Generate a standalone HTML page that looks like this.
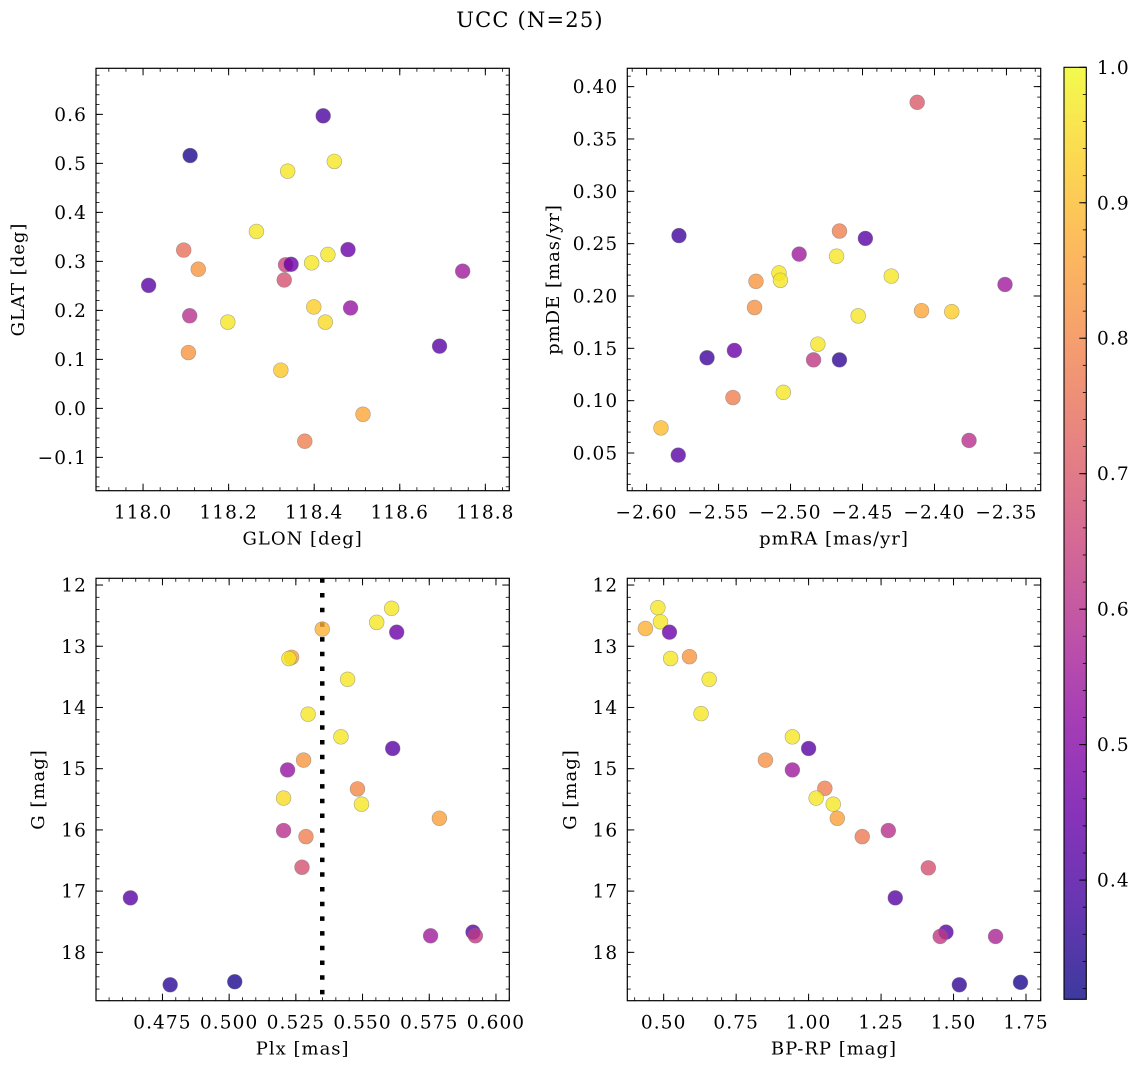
<!DOCTYPE html>
<html><head><meta charset="utf-8"><title>UCC (N=25)</title>
<style>
html,body{margin:0;padding:0;background:#fff;}
svg{display:block;font-family:"DejaVu Serif","Liberation Serif",serif;}
.tk{font-size:18.5px;letter-spacing:1.1px;}
.lb{font-size:18px;letter-spacing:1px;}
</style></head>
<body>
<svg id="fig" width="1136" height="1067" viewBox="0 0 1136 1067" xmlns="http://www.w3.org/2000/svg">
<defs>
<linearGradient id="cbgrad" x1="0" y1="1" x2="0" y2="0">
<stop offset="0" stop-color="#0d0887"/><stop offset="0.1" stop-color="#41049d"/><stop offset="0.2" stop-color="#6a00a8"/><stop offset="0.3" stop-color="#8f0da4"/><stop offset="0.4" stop-color="#b12a90"/><stop offset="0.5" stop-color="#cc4778"/><stop offset="0.6" stop-color="#e16462"/><stop offset="0.7" stop-color="#f2844b"/><stop offset="0.8" stop-color="#fca636"/><stop offset="0.9" stop-color="#fcce25"/><stop offset="1" stop-color="#f0f921"/>
</linearGradient>
</defs>
<text x="530" y="27" text-anchor="middle" font-size="21" letter-spacing="1.2">UCC (N=25)</text>
</svg>
<script>
// ---- data ----
const glon = [118.013,118.11,118.095,118.129,118.109,118.106,118.198,118.265,118.333,118.346,118.33,118.322,118.338,118.378,118.394,118.399,118.432,118.426,118.447,118.421,118.479,118.485,118.514,118.693,118.747];
const glat = [0.251,0.516,0.323,0.284,0.189,0.114,0.176,0.361,0.293,0.294,0.262,0.078,0.484,-0.067,0.297,0.207,0.314,0.176,0.504,0.597,0.324,0.205,-0.012,0.127,0.28];
const probTL = [0.42,0.33,0.75,0.83,0.6,0.83,0.97,0.97,0.65,0.45,0.68,0.92,0.97,0.78,0.97,0.93,0.97,0.95,0.97,0.4,0.45,0.53,0.86,0.42,0.55];

const pmra = [-2.5775,-2.578,-2.590,-2.558,-2.539,-2.540,-2.524,-2.525,-2.508,-2.507,-2.505,-2.494,-2.484,-2.481,-2.466,-2.468,-2.466,-2.453,-2.448,-2.430,-2.412,-2.409,-2.388,-2.376,-2.351];
const pmde = [0.2577,0.048,0.074,0.141,0.148,0.103,0.214,0.189,0.222,0.215,0.108,0.240,0.139,0.154,0.262,0.238,0.139,0.181,0.255,0.219,0.385,0.186,0.185,0.062,0.211];
const probTR = [0.38,0.42,0.9,0.38,0.45,0.78,0.83,0.82,0.97,0.97,0.97,0.55,0.62,0.97,0.78,0.97,0.36,0.97,0.42,0.97,0.7,0.86,0.93,0.6,0.55];

const plx = [0.463,0.4779,0.5021,0.5219,0.5204,0.5204,0.5234,0.5224,0.5273,0.5279,0.5288,0.5296,0.5349,0.5419,0.5444,0.5481,0.5496,0.5553,0.5609,0.5613,0.5628,0.5755,0.5788,0.5914,0.5923];
const gmagBL = [17.11,18.53,18.48,15.02,16.01,15.48,13.18,13.2,16.61,14.86,16.11,14.11,12.72,14.48,13.54,15.33,15.58,12.61,12.38,14.67,12.77,17.73,15.81,17.67,17.73];
const probBL = [0.42,0.35,0.33,0.53,0.6,0.95,0.85,0.97,0.68,0.83,0.78,0.97,0.88,0.97,0.97,0.8,0.97,0.97,0.97,0.42,0.45,0.55,0.85,0.42,0.62];
const plxMedian = [0.5349];

const bprp = [0.480,0.489,0.437,0.520,0.524,0.589,0.657,0.629,0.944,1.0,0.851,0.944,1.056,1.026,1.085,1.099,1.185,1.275,1.413,1.299,1.474,1.454,1.645,1.520,1.731];
const gmagBR = [12.37,12.60,12.71,12.77,13.20,13.17,13.54,14.10,14.48,14.67,14.86,15.02,15.32,15.48,15.58,15.81,16.11,16.01,16.62,17.11,17.67,17.74,17.74,18.53,18.49];
const probBR = [0.97,0.97,0.88,0.45,0.97,0.83,0.97,0.97,0.97,0.42,0.82,0.55,0.78,0.97,0.97,0.85,0.77,0.6,0.68,0.42,0.42,0.62,0.57,0.36,0.33];

const cbTicks = [0.4,0.5,0.6,0.7,0.8,0.9,1.0];
const cRange = [0.312,1.0];

// ---- helpers ----
const NS="http://www.w3.org/2000/svg";
const fig=document.getElementById('fig');
function el(tag,attrs,parent){const e=document.createElementNS(NS,tag);for(const k in attrs)e.setAttribute(k,attrs[k]);(parent||fig).appendChild(e);return e;}
const stops=[[13,8,135],[65,4,157],[106,0,168],[143,13,164],[177,42,144],[204,71,120],[225,100,98],[242,132,75],[252,166,54],[252,206,37],[240,249,33]];
function plasma(v){let t=(v-cRange[0])/(cRange[1]-cRange[0]);t=Math.max(0,Math.min(1,t))*10;const i=Math.min(9,Math.floor(t)),f=t-i;const a=stops[i],b=stops[i+1];return 'rgb('+a.map((x,k)=>Math.round(x+(b[k]-x)*f)).join(',')+')';}
function fmt(v,d){const s=Math.abs(v).toFixed(d);return (v< -1e-9?'\u2212':'')+s;}

function panel(cfg){
  const g=el('g',{});
  
  
  const [x0,x1]=cfg.px,[y0,y1]=cfg.py;
  const sx=v=>x0+(v-cfg.xr[0])/(cfg.xr[1]-cfg.xr[0])*(x1-x0);
  const sy=cfg.invert? v=>y0+(v-cfg.yr[0])/(cfg.yr[1]-cfg.yr[0])*(y1-y0)
                     : v=>y1-(v-cfg.yr[0])/(cfg.yr[1]-cfg.yr[0])*(y1-y0);
  if(cfg.vline){const vx=sx(cfg.vline[0]);const l=el('line',{x1:vx,x2:vx,y1:y0,y2:y1,stroke:'#000','stroke-width':4.5,'stroke-dasharray':'4.5 10.2'},g);
    
    }
  for(let i=0;i<cfg.xs.length;i++){
    const c=el('circle',{cx:sx(cfg.xs[i]),cy:sy(cfg.ys[i]),r:7.4,fill:plasma(cfg.cs[i]),'fill-opacity':0.8,stroke:'#777','stroke-opacity':0.6,'stroke-width':0.6},g);
    
    
  }
  const fr=el('rect',{x:x0,y:y0,width:x1-x0,height:y1-y0,fill:'none',stroke:'#000','stroke-width':1.2},g);
  
  
  const tk=(a,b,c,d,w)=>el('line',{x1:a,y1:b,x2:c,y2:d,stroke:'#000','stroke-width':w||1},g);
  const eps=1e-9;
  const xmin=Math.min(...cfg.xr),xmax=Math.max(...cfg.xr),ymin=Math.min(...cfg.yr),ymax=Math.max(...cfg.yr);
  for(let v=Math.ceil(xmin/cfg.xmin-eps)*cfg.xmin;v<=xmax+eps;v+=cfg.xmin){const X=sx(v);tk(X,y1,X,y1-3.5,0.8);tk(X,y0,X,y0+3.5,0.8);}
  for(let v=Math.ceil(ymin/cfg.ymin-eps)*cfg.ymin;v<=ymax+eps;v+=cfg.ymin){const Y=sy(v);tk(x0,Y,x0+3.5,Y,0.8);tk(x1,Y,x1-3.5,Y,0.8);}
  cfg.xt.forEach(v=>{const X=sx(v);tk(X,y1,X,y1-7);tk(X,y0,X,y0+7);
    const t=el('text',{x:X,y:y1+28,'text-anchor':'middle','class':'tk'},g);t.textContent=fmt(v,cfg.xd);
    
    });
  cfg.yt.forEach(v=>{const Y=sy(v);tk(x0,Y,x0+7,Y);tk(x1,Y,x1-7,Y);
    const t=el('text',{x:x0-9,y:Y+6.5,'text-anchor':'end','class':'tk'},g);t.textContent=fmt(v,cfg.yd);
    
    });
  const xl=el('text',{x:(x0+x1)/2,y:y1+54,'text-anchor':'middle','class':'lb'},g);xl.textContent=cfg.xlabel;
  
  
  const yl=el('text',{x:0,y:0,'text-anchor':'middle','class':'lb',transform:'translate('+cfg.ylx+','+((y0+y1)/2)+') rotate(-90)'},g);yl.textContent=cfg.ylabel;
  
  
}
function range(a,b,s){const r=[];for(let v=a;v<=b+s*1e-6;v+=s)r.push(Math.round(v/s)*s);return r;}

panel({name:'glon-glat-panel',px:[96,509.3],py:[68.3,490.7],xr:[117.89,118.856],yr:[-0.168,0.694],
  xs:glon,ys:glat,cs:probTL,xt:range(118.0,118.8,0.2),xd:1,xmin:0.04,yt:range(-0.1,0.6,0.1),yd:1,ymin:0.02,
  xlabel:'GLON [deg]',ylabel:'GLAT [deg]',ylx:24});
panel({name:'pmra-pmde-panel',px:[627.3,1040.7],py:[68.3,490.7],xr:[-2.6134,-2.3262],yr:[0.014,0.4175],
  xs:pmra,ys:pmde,cs:probTR,xt:range(-2.60,-2.35,0.05),xd:2,xmin:0.01,yt:range(0.05,0.40,0.05),yd:2,ymin:0.01,
  xlabel:'pmRA [mas/yr]',ylabel:'pmDE [mas/yr]',ylx:559});
panel({name:'plx-g-panel',px:[96,509.3],py:[578.3,1000.7],xr:[0.4501,0.605],yr:[11.89,18.79],invert:true,vline:plxMedian,
  xs:plx,ys:gmagBL,cs:probBL,xt:range(0.475,0.600,0.025),xd:3,xmin:0.005,yt:range(12,18,1),yd:0,ymin:0.2,
  xlabel:'Plx [mas]',ylabel:'G [mag]',ylx:44});
panel({name:'bprp-g-panel',px:[627.3,1040.7],py:[578.3,1000.7],xr:[0.3745,1.8007],yr:[11.89,18.79],invert:true,
  xs:bprp,ys:gmagBR,cs:probBR,xt:range(0.5,1.75,0.25),xd:2,xmin:0.05,yt:range(12,18,1),yd:0,ymin:0.2,
  xlabel:'BP-RP [mag]',ylabel:'G [mag]',ylx:576});

(function(){
  const g=el('g',{});
  
  
  const cx0=1064,cx1=1086.3,cy0=67.3,cy1=999.3;
  el('rect',{x:cx0,y:cy0,width:cx1-cx0,height:cy1-cy0,fill:'url(#cbgrad)','fill-opacity':0.8},g);
  el('rect',{x:cx0,y:cy0,width:cx1-cx0,height:cy1-cy0,fill:'none',stroke:'#000','stroke-width':1.1},g);
  const sy=v=>cy1-(v-cRange[0])/(cRange[1]-cRange[0])*(cy1-cy0);
  for(let v=0.32;v<=1.0001;v+=0.02){const Y=sy(v);el('line',{x1:cx1,x2:cx1-3.5,y1:Y,y2:Y,stroke:'#000','stroke-width':0.8},g);}
  cbTicks.forEach(v=>{const Y=sy(v);el('line',{x1:cx1,x2:cx1-7,y1:Y,y2:Y,stroke:'#000','stroke-width':1},g);
    const t=el('text',{x:1097,y:Y+6.5,'class':'tk'},g);t.textContent=v.toFixed(1);
    
    });
})();
</script>
</body></html>
